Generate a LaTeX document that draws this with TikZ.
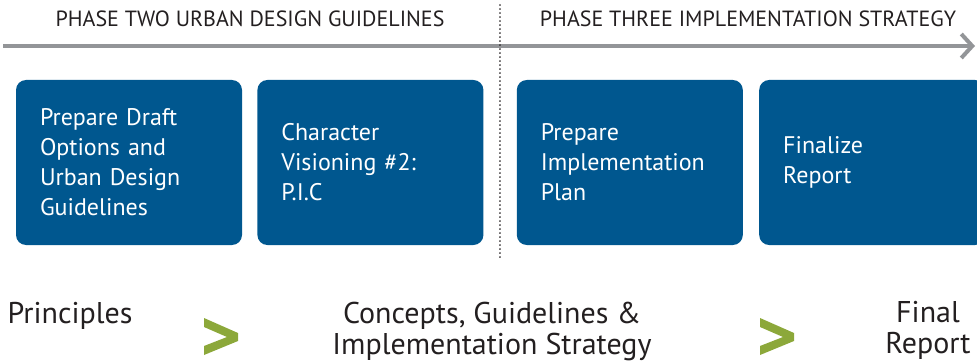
\documentclass[tikz,border=0pt]{standalone}
\usepackage[dvipsnames]{xcolor}
\usepackage{fontspec}
\usepackage{tikz}
\setmainfont{PT Sans}
\usetikzlibrary{positioning,arrows.meta}
\definecolor{boxblue}{HTML}{00578F}
\definecolor{linegray}{HTML}{939598}
\definecolor{chevgreen}{HTML}{8CA83A}
\definecolor{inkdark}{HTML}{231F20}
\tikzset{
  taskbox/.style={fill=boxblue, rounded corners=10pt, minimum width=226pt, minimum height=165pt,
    text width=178pt, inner xsep=24pt, align=left, text=white, font=\fontsize{24}{30}\selectfont},
  phasehead/.style={text=inkdark, font=\fontsize{22}{24}\selectfont},
  outcome/.style={text=inkdark, align=center, font=\fontsize{30}{31}\selectfont},
  chevron/.style={fill=chevgreen}
}
\newcommand{\greenchev}[1]{\fill[chevron, shift={(#1,0)}] (0,44) -- (34,29) -- (34,21) -- (0,7) -- (0,16) -- (23,25) -- (0,35) -- cycle;}

\begin{document}
\begin{tikzpicture}[x=1pt,y=1pt]
\useasboundingbox (0,0) rectangle (977,362);
\clip (0,0) rectangle (977,362);
\node[taskbox] (prep) at (129,199.5) {Prepare Draft\\Options and\\Urban Design\\Guidelines};
\node[taskbox, right=15pt of prep] (charvis) {Character\\Visioning \#2:\\P.I.C};
\node[taskbox, right=33pt of charvis] (implan) {Prepare\\Implementation\\Plan};
\node[taskbox, right=16pt of implan] (final) {Finalize\\Report};
\node[phasehead] (two) at (250,343) {PHASE TWO URBAN DESIGN GUIDELINES};
\node[phasehead] (three) at (748,343) {PHASE THREE IMPLEMENTATION STRATEGY};
\coordinate (tstart) at (3,316);
\coordinate (tend) at (975,316);
\draw[linegray, line width=4pt, -{Straight Barb[length=11pt,width=24pt]}] (tstart) -- (tend);
\coordinate (dtop) at (500,357);
\coordinate (dbot) at (500,102);
\draw[inkdark, line width=1.6pt, dash pattern=on 0.1pt off 3.9pt, line cap=round] (dtop) -- (dbot);
\node[outcome] (princ) at (70,46) {Principles};
\node[outcome] (concepts) at (492,31) {Concepts, Guidelines \&\\Implementation Strategy};
\node[outcome] (freport) at (928,32) {Final\\Report};
\greenchev{204}
\greenchev{760}
\end{tikzpicture}
\end{document}
